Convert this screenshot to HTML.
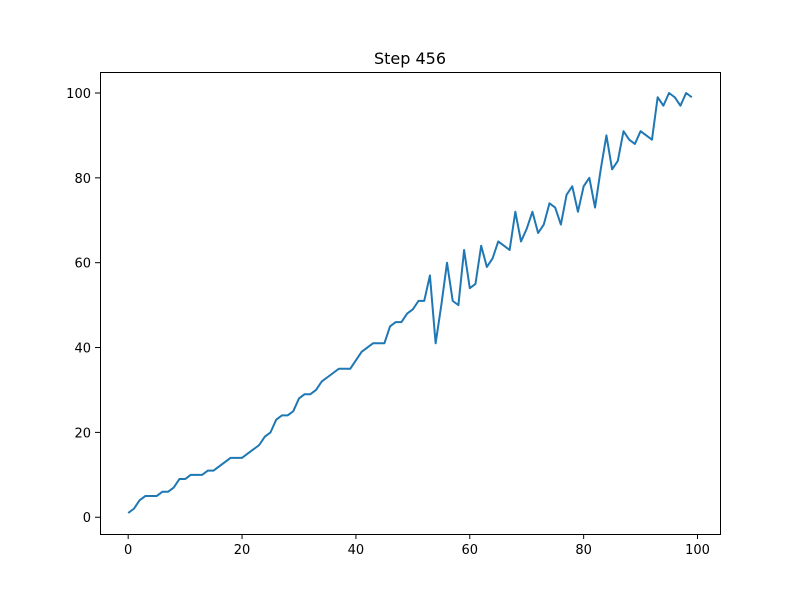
<!DOCTYPE html>
<html><head><meta charset="utf-8"><style>
body{margin:0;background:#fff;}
svg{display:block;font-family:"DejaVu Sans","Liberation Sans",sans-serif;}
</style></head><body>
<svg id="chart" width="800" height="600">
<rect width="800" height="600" fill="#fff"/>
<text x="410" y="64" text-anchor="middle" font-size="16">Step 456</text>
<g id="axes"></g>
<polyline id="line" fill="none" stroke="#1f77b4" stroke-width="2" stroke-linejoin="round"/>
<rect x="100.5" y="72.5" width="620" height="462" fill="none" stroke="#000" stroke-width="1"/>
</svg>
<script>
const values=[1,2,4,5,5,5,6,6,7,9,9,10,10,10,11,11,12,13,14,14,14,15,16,17,19,20,23,24,24,25,28,29,29,30,32,33,34,35,35,35,37,39,40,41,41,41,45,46,46,48,49,51,51,57,41,50,60,51,50,63,54,55,64,59,61,65,64,63,72,65,68,72,67,69,74,73,69,76,78,72,78,80,73,82,90,82,84,91,89,88,91,90,89,99,97,100,99,97,100,99];
const xTicks=[0,20,40,60,80,100];
const yTicks=[0,20,40,60,80,100];
const X0=100,X1=720,Y0=534,Y1=72;
const n=values.length;
const xmin=-0.05*(n-1),xmax=(n-1)*1.05;
const vmin=Math.min(...values),vmax=Math.max(...values),pad=(vmax-vmin)*0.05;
const ymin=vmin-pad,ymax=vmax+pad;
const xs=v=>X0+(v-xmin)/(xmax-xmin)*(X1-X0);
const ys=v=>Y0-(v-ymin)/(ymax-ymin)*(Y0-Y1);
const line=document.getElementById('line');
line.setAttribute('points',values.map((v,i)=>xs(i).toFixed(2)+','+ys(v).toFixed(2)).join(' '));
const ax=document.getElementById('axes');
const NS='http://www.w3.org/2000/svg';
xTicks.forEach(t=>{
 const x=xs(t);
 const l=document.createElementNS(NS,'line');
 l.setAttribute('x1',x);l.setAttribute('x2',x);l.setAttribute('y1',Y0);l.setAttribute('y2',Y0+5);l.setAttribute('stroke','#000');
 
 
 ax.appendChild(l);
 const tx=document.createElementNS(NS,'text');
 tx.setAttribute('x',x);tx.setAttribute('y',Y0+20);tx.setAttribute('text-anchor','middle');tx.setAttribute('font-size','13');
 tx.textContent=t;
 
 
 ax.appendChild(tx);
});
yTicks.forEach(t=>{
 const y=ys(t);
 const l=document.createElementNS(NS,'line');
 l.setAttribute('x1',X0-5);l.setAttribute('x2',X0);l.setAttribute('y1',y);l.setAttribute('y2',y);l.setAttribute('stroke','#000');
 
 
 ax.appendChild(l);
 const tx=document.createElementNS(NS,'text');
 tx.setAttribute('x',X0-9);tx.setAttribute('y',y+5);tx.setAttribute('text-anchor','end');tx.setAttribute('font-size','13');
 tx.textContent=t;
 
 
 ax.appendChild(tx);
});
</script>
</body></html>
